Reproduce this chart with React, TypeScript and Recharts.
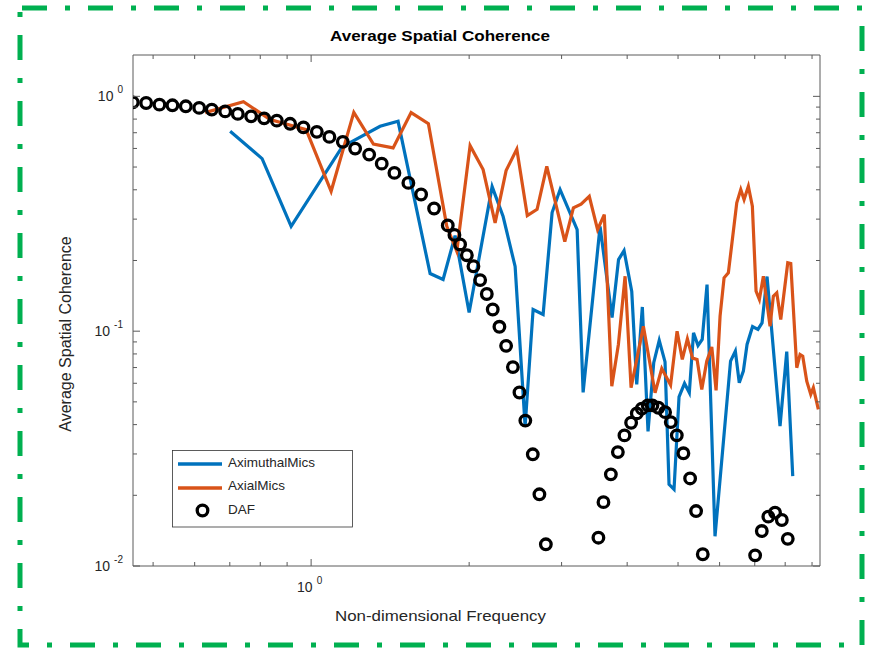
import { ComposedChart, Line, Scatter, XAxis, YAxis, Legend } from 'recharts';

// frequencies / coherence (log-log)
const azimuthalFreq = [
  0.7011, 0.8065, 0.9161, 1.1457, 1.3532, 1.4643, 1.6853, 1.7841, 1.8806, 1.9998,
  2.2122, 2.3215, 2.4469, 2.5567, 2.6479, 2.7666, 2.878, 2.9807, 3.2119, 3.2975,
  3.5517, 3.7434, 3.8517, 3.9458, 4.0813, 4.1717, 4.2753, 4.3835, 4.4945, 4.6042,
  4.7228, 4.8064, 4.913, 5.0219, 5.1444, 5.2538, 5.3514, 5.4582, 5.5598, 5.6782,
  5.8807, 6.2953, 6.4293, 6.5403, 6.659, 6.7679, 6.9331, 7.0991, 7.228, 7.3882,
  7.8215, 8.0548, 8.2697,
];
const azimuthalCoh = [
  0.7097, 0.543, 0.2797, 0.6091, 0.7455, 0.783, 0.176, 0.166, 0.2554, 0.1201,
  0.4127, 0.3077, 0.1886, 0.03931, 0.1237, 0.1178, 0.32, 0.4009, 0.2708, 0.05484,
  0.279, 0.1144, 0.2018, 0.2205, 0.1476, 0.05932, 0.1268, 0.03743, 0.07338, 0.0913,
  0.07396, 0.02227, 0.0212, 0.05248, 0.0599, 0.05468, 0.09844, 0.08695, 0.09218, 0.158,
  0.01338, 0.07454, 0.08222, 0.06031, 0.06757, 0.0878, 0.1047, 0.1017, 0.1085, 0.1709,
  0.03942, 0.08181, 0.02415,
];

const axialFreq = [
  0.6282, 0.7431, 0.8354, 0.9783, 1.0917, 1.206, 1.3142, 1.4328, 1.5505, 1.6727,
  1.8133, 1.8946, 2.0085, 2.1263, 2.2412, 2.352, 2.465, 2.5812, 2.6945, 2.8116,
  3.0426, 3.1595, 3.268, 3.3876, 3.5134, 3.6181, 3.7392, 3.849, 3.9636, 4.0693,
  4.2949, 4.5209, 4.6559, 4.839, 4.979, 5.094, 5.2092, 5.3295, 5.4353, 5.5487,
  5.6717, 5.7976, 5.9078, 6.0124, 6.1189, 6.2351, 6.4692, 6.5841, 6.68, 6.8068,
  6.9273, 7.0406, 7.1433, 7.2699, 7.4866, 7.5957, 7.7102, 7.8463, 8.0911, 8.1983,
  8.4168, 8.5395, 8.6408, 8.7941, 8.9499, 9.0524, 9.2529,
];
const axialCoh = [
  0.8524, 0.9494, 0.796, 0.7216, 0.3942, 0.8548, 0.626, 0.6032, 0.8524, 0.7653,
  0.2797, 0.219, 0.6169, 0.4876, 0.2893, 0.4829, 0.5961, 0.3107, 0.3305, 0.5036,
  0.2408, 0.335, 0.3478, 0.3754, 0.2709, 0.3138, 0.05834, 0.08778, 0.1714, 0.05743,
  0.105, 0.05469, 0.06939, 0.05903, 0.1, 0.07578, 0.09264, 0.07676, 0.07578, 0.05648,
  0.07453, 0.08566, 0.05593, 0.11584, 0.16874, 0.17722, 0.35187, 0.4008, 0.36344, 0.41403,
  0.34033, 0.14798, 0.13642, 0.1714, 0.105, 0.14091, 0.14568, 0.11214, 0.19545, 0.19412,
  0.06987, 0.07959, 0.07827, 0.06127, 0.05378, 0.05743, 0.04643,
];

const dafFreq = [
  0.4574, 0.485, 0.5141, 0.5442, 0.5771, 0.6121, 0.6468, 0.6859, 0.725, 0.7686,
  0.8137, 0.8603, 0.912, 0.9668, 1.0253, 1.0835, 1.149, 1.213, 1.29, 1.363,
  1.441, 1.532, 1.62, 1.715, 1.821, 1.875, 1.922, 1.98, 2.038, 2.099,
  2.161, 2.218, 2.284, 2.352, 2.423, 2.494, 2.559, 2.644, 2.722, 2.8,
  3.526, 3.605, 3.724, 3.84, 3.953, 4.07, 4.173, 4.265, 4.378, 4.468,
  4.587, 4.724, 4.843, 4.973, 5.119, 5.272, 5.412, 5.573,
  7.012, 7.22, 7.43, 7.652, 7.883, 8.091,
];
const dafCoh = [
  0.943, 0.937, 0.922, 0.916, 0.907, 0.893, 0.878, 0.863, 0.842, 0.822,
  0.806, 0.788, 0.764, 0.738, 0.706, 0.672, 0.64, 0.599, 0.565, 0.517,
  0.472, 0.428, 0.382, 0.333, 0.282, 0.257, 0.234, 0.2106, 0.189, 0.165,
  0.144, 0.1237, 0.1044, 0.0866, 0.0703, 0.0548, 0.0416, 0.0299, 0.0202, 0.01237,
  0.0132, 0.0187, 0.02456, 0.03055, 0.03598, 0.04075, 0.04466, 0.04676, 0.04829, 0.04829,
  0.0472, 0.0452, 0.041, 0.036, 0.0302, 0.0236, 0.01714, 0.01122,
  0.0111, 0.01409, 0.01622, 0.01687, 0.0157, 0.01305,
];

const xTicks = [0.5, 0.6, 0.7, 0.8, 0.9, 1, 2, 3, 4, 5, 6, 7, 8, 9];
const yTicks = [
  0.01, 0.02, 0.03, 0.04, 0.05, 0.06, 0.07, 0.08, 0.09,
  0.1, 0.2, 0.3, 0.4, 0.5, 0.6, 0.7, 0.8, 0.9, 1,
];
const xDomain = [0.4578, 9.32];
const yDomain = [0.01, 1.5];

const BLUE = '#0072BD';
const ORANGE = '#D95319';
const AXIS = '#5a5a5a';
const TEXT = '#262626';
const FONT = '"Liberation Sans", Arial, Helvetica, sans-serif';

const zip = (xs: number[], ys: number[]) => xs.map((x, i) => ({ x, y: ys[i] }));
const azimuthalData = zip(azimuthalFreq, azimuthalCoh);
const axialData = zip(axialFreq, axialCoh);
const dafData = zip(dafFreq, dafCoh);

const isMajor = (v: number) => Math.abs(Math.log10(v) - Math.round(Math.log10(v))) < 1e-6;

const Pow = ({ x, y, v, anchor }: { x: number; y: number; v: number; anchor: string }) => (
  <text x={x} y={y} textAnchor={anchor} fontSize={14} fill={TEXT} fontFamily={FONT}>
    10
    <tspan dx={4} dy={-8} fontSize={10}>
      {Math.round(Math.log10(v))}
    </tspan>
  </text>
);

const BottomTick = (p: any) => {
  const major = isMajor(p.payload.value);
  return (
    <g>
      <line x1={p.x} x2={p.x} y1={p.y} y2={p.y - (major ? 7 : 4)} stroke={AXIS} />
      {major && <Pow x={p.x - 1.5} y={p.y + 26} v={p.payload.value} anchor="middle" />}
    </g>
  );
};

const TopTick = (p: any) => {
  const major = isMajor(p.payload.value);
  return <line x1={p.x} x2={p.x} y1={p.y} y2={p.y + (major ? 7 : 4)} stroke={AXIS} />;
};

const LeftTick = (p: any) => {
  const major = isMajor(p.payload.value);
  return (
    <g>
      <line x1={p.x} x2={p.x + (major ? 7 : 4)} y1={p.y} y2={p.y} stroke={AXIS} />
      {major && <Pow x={p.x - 10} y={p.y + 5} v={p.payload.value} anchor="end" />}
    </g>
  );
};

const RightTick = (p: any) => {
  const major = isMajor(p.payload.value);
  return <line x1={p.x} x2={p.x - (major ? 7 : 4)} y1={p.y} y2={p.y} stroke={AXIS} />;
};

const Ring = (p: any) => (
  <circle cx={p.cx} cy={p.cy} r={5.3} fill="none" stroke="#000" strokeWidth={3.3} />
);

const LegendBox = () => (
  <svg width={182} height={78} style={{ display: 'block', fontFamily: FONT }}>
    <rect x={0.5} y={0.5} width={180} height={76.5} fill="#fff" stroke="#333" strokeWidth={0.8} />
    <line x1={6} x2={50} y1={14} y2={14} stroke={BLUE} strokeWidth={3.5} />
    <text x={56} y={17} fontSize={13.5} fill={TEXT}>AximuthalMics</text>
    <line x1={6} x2={50} y1={38} y2={38} stroke={ORANGE} strokeWidth={3.5} />
    <text x={56} y={40} fontSize={13.5} fill={TEXT}>AxialMics</text>
    <circle cx={30.5} cy={60.5} r={5.3} fill="none" stroke="#000" strokeWidth={3.3} />
    <text x={56} y={64} fontSize={13.5} fill={TEXT}>DAF</text>
  </svg>
);

export default function App() {
  return (
    <div
      style={{
        position: 'absolute',
        left: 0,
        top: 0,
        width: 869,
        height: 649,
        background: '#fff',
        fontFamily: FONT,
      }}
    >
      <ComposedChart width={869} height={649} margin={{ top: 50, right: 44, bottom: 53, left: 93 }}>
        <XAxis
          xAxisId="b"
          dataKey="x"
          type="number"
          scale="log"
          domain={xDomain}
          allowDataOverflow
          ticks={xTicks}
          interval={0}
          tickSize={0}
          tickMargin={0}
          tickLine={false}
          tick={BottomTick}
          height={30}
          stroke={AXIS}
        />
        <XAxis
          xAxisId="t"
          orientation="top"
          dataKey="x"
          type="number"
          scale="log"
          domain={xDomain}
          allowDataOverflow
          ticks={xTicks}
          interval={0}
          tickSize={0}
          tickMargin={0}
          tickLine={false}
          tick={TopTick}
          height={5}
          stroke={AXIS}
        />
        <YAxis
          yAxisId="l"
          dataKey="y"
          type="number"
          scale="log"
          domain={yDomain}
          allowDataOverflow
          ticks={yTicks}
          interval={0}
          tickSize={0}
          tickMargin={0}
          tickLine={false}
          tick={LeftTick}
          width={40}
          stroke={AXIS}
        />
        <YAxis
          yAxisId="r"
          orientation="right"
          dataKey="y"
          type="number"
          scale="log"
          domain={yDomain}
          allowDataOverflow
          ticks={yTicks}
          interval={0}
          tickSize={0}
          tickMargin={0}
          tickLine={false}
          tick={RightTick}
          width={5}
          stroke={AXIS}
        />
        <Line
          xAxisId="b"
          yAxisId="l"
          data={azimuthalData}
          dataKey="y"
          stroke={BLUE}
          strokeWidth={3.2}
          dot={false}
          type="linear"
          isAnimationActive={false}
        />
        <Line
          xAxisId="b"
          yAxisId="l"
          data={axialData}
          dataKey="y"
          stroke={ORANGE}
          strokeWidth={3.2}
          dot={false}
          type="linear"
          isAnimationActive={false}
        />
        <Scatter
          xAxisId="b"
          yAxisId="l"
          data={dafData}
          dataKey="y"
          shape={Ring}
          isAnimationActive={false}
        />
        <Legend
          layout="horizontal"
          verticalAlign="middle"
          align="center"
          content={() => <LegendBox />}
          wrapperStyle={{ left: 172, top: 450, width: 182, height: 78, margin: 0 }}
        />
      </ComposedChart>
      <svg
        width={869}
        height={649}
        style={{ position: 'absolute', left: 0, top: 0, pointerEvents: 'none' }}
      >
        <text
          x={440}
          y={40.5}
          textAnchor="middle"
          fontSize={15}
          fontWeight="bold"
          fill="#000"
          fontFamily={FONT}
          textLength={220}
          lengthAdjust="spacingAndGlyphs"
        >
          Average Spatial Coherence
        </text>
        <text
          x={440.5}
          y={621}
          textAnchor="middle"
          fontSize={15}
          fill={TEXT}
          fontFamily={FONT}
          textLength={211}
          lengthAdjust="spacingAndGlyphs"
        >
          Non-dimensional Frequency
        </text>
        <text
          x={0}
          y={0}
          transform="translate(71,334) rotate(-90)"
          textAnchor="middle"
          fontSize={16}
          fill={TEXT}
          fontFamily={FONT}
        >
          Average Spatial Coherence
        </text>
        <rect
          x={20}
          y={8}
          width={842}
          height={637}
          fill="none"
          stroke="#00B050"
          strokeWidth={5}
          strokeDasharray="25 18 5 18"
          strokeDashoffset={-2}
        />
      </svg>
    </div>
  );
}
